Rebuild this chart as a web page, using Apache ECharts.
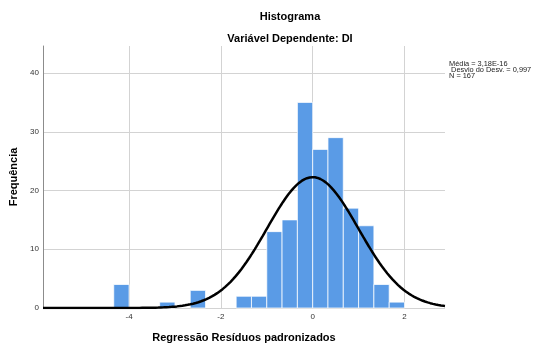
<!DOCTYPE html>
<html>
<head>
<meta charset="utf-8">
<script src="https://cdn.jsdelivr.net/npm/echarts@6/dist/echarts.min.js"></script>
<style>
  html, body { margin: 0; padding: 0; background: #fff; }
  #chart { width: 534px; height: 347px; }
</style>
</head>
<body>
<div id="chart"></div>
<script>
// Histogram bins: lower edge of each bin and its count (bin width 1/3)
const binLower = [-4.333, -3.333, -2.667, -1.667, -1.333, -1.0, -0.667, -0.333, 0.0, 0.333, 0.667, 1.0, 1.333, 1.667];
const binCount = [4, 1, 3, 2, 2, 13, 15, 35, 27, 29, 17, 14, 4, 1];
const binWidth = 0.3333;

// Summary statistics shown beside the plot
const statMean = 3.18e-16;
const statSd = 0.997;
const statN = 167;
const statLines = ['Média = 3,18E-16', ' Desvio do Desv. = 0,997', 'N = 167'];

// Axis ticks
const xTicks = [-4, -2, 0, 2];
const yTicks = [0, 10, 20, 30, 40];
const xRange = [-5.874, 2.882];
const yRange = [0, 44.6];

// Normal curve scaled to the histogram (N * bin width * density)
const curve = [];
const steps = 300;
for (let i = 0; i <= steps; i++) {
  const x = xRange[0] + (xRange[1] - xRange[0]) * i / steps;
  const z = (x - statMean) / statSd;
  const y = statN * binWidth * Math.exp(-0.5 * z * z) / (statSd * Math.sqrt(2 * Math.PI));
  curve.push([x, y]);
}

const bars = binLower.map((lo, i) => [lo, lo + binWidth, binCount[i]]);

const font = 'Liberation Sans, Arial, sans-serif';
const chart = echarts.init(document.getElementById('chart'));
chart.setOption({
  animation: false,
  backgroundColor: '#ffffff',
  title: [
    { text: 'Histograma', left: 290, top: 11, textAlign: 'center', padding: 0,
      textStyle: { fontFamily: font, fontSize: 11, fontWeight: 'bold', color: '#000' } },
    { text: 'Variável Dependente: DI', left: 290, top: 33, textAlign: 'center', padding: 0,
      textStyle: { fontFamily: font, fontSize: 11, fontWeight: 'bold', color: '#000' } },
    { text: statLines.join('\n'), left: 449, top: 61, padding: 0,
      textStyle: { fontFamily: font, fontSize: 7.4, fontWeight: 'normal', color: '#222', lineHeight: 5.8 } }
  ],
  grid: { left: 43, right: 89, top: 46, bottom: 39, outerBoundsMode: 'none', containLabel: false },
  xAxis: {
    type: 'value',
    min: xRange[0], max: xRange[1],
    name: 'Regressão Resíduos padronizados',
    nameLocation: 'middle', nameGap: 24,
    nameTextStyle: { fontFamily: font, fontSize: 11, fontWeight: 'bold', color: '#000' },
    axisLine: { show: false },
    axisTick: { show: false, customValues: xTicks },
    axisLabel: { customValues: xTicks, fontFamily: font, fontSize: 8, color: '#333', margin: 5 },
    splitLine: { show: true, lineStyle: { color: '#d3d3d3', width: 1 } }
  },
  yAxis: {
    type: 'value',
    min: yRange[0], max: yRange[1],
    name: 'Frequência',
    nameLocation: 'middle', nameGap: 18,
    nameTextStyle: { fontFamily: font, fontSize: 11, fontWeight: 'bold', color: '#000' },
    axisLine: { show: true, onZero: false, lineStyle: { color: '#8c8c8c', width: 1 } },
    axisTick: { show: false, customValues: yTicks },
    axisLabel: { customValues: yTicks, fontFamily: font, fontSize: 8, color: '#333', margin: 4 },
    splitLine: { show: true, lineStyle: { color: '#d3d3d3', width: 1 } }
  },
  series: [
    {
      type: 'custom',
      data: bars,
      encode: { x: [0, 1], y: 2 },
      z: 2,
      renderItem: function (params, api) {
        const p0 = api.coord([api.value(0), 0]);
        const p1 = api.coord([api.value(1), api.value(2)]);
        return {
          type: 'rect',
          shape: { x: p0[0], y: p1[1], width: p1[0] - p0[0], height: p0[1] - p1[1] },
          style: { fill: '#5a9be6', stroke: 'rgba(255,255,255,0.75)', lineWidth: 1 }
        };
      }
    },
    {
      type: 'line',
      data: curve,
      showSymbol: false,
      symbol: 'none',
      z: 3,
      lineStyle: { color: '#000', width: 2.5 }
    }
  ]
});
</script>
</body>
</html>
